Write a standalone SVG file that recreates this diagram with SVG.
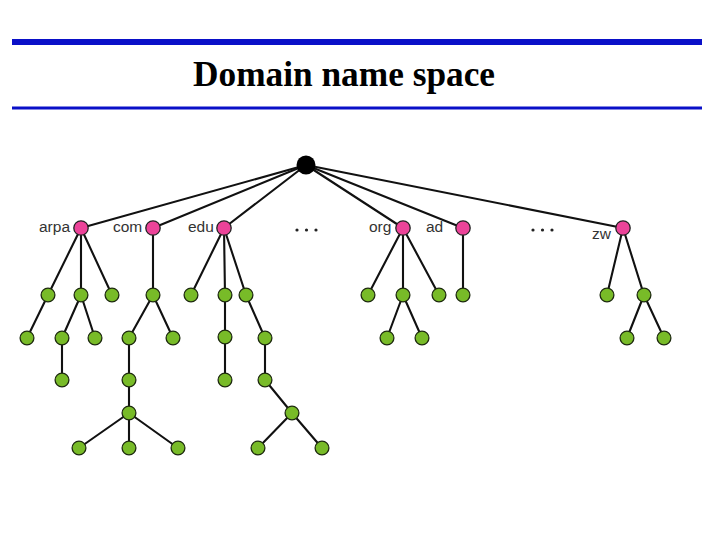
<svg xmlns="http://www.w3.org/2000/svg" width="720" height="540" viewBox="0 0 720 540">
<style>
.bar{fill:#0a10c8}
.title{font-family:"Liberation Serif","Times New Roman",serif;font-weight:bold;font-size:35px;fill:#000}
.edge{stroke:#111;stroke-width:2.1;fill:none;stroke-linecap:round}
.tld{fill:#ec4399;stroke:#222;stroke-width:1.3}
.leaf{fill:#78bb28;stroke:#1e2a10;stroke-width:1.3}
.root{fill:#000}
.lbl{font-family:"Liberation Sans",Arial,sans-serif;font-size:15.5px;fill:#333}
.dot{fill:#222}
</style>
<rect class="bar" x="12" y="39" width="690" height="6"/>
<rect class="bar" x="12" y="106.5" width="690" height="3"/>
<text class="title" x="193" y="86" textLength="302" lengthAdjust="spacingAndGlyphs">Domain name space</text>
<g id="connectors">
<line class="edge" x1="306" y1="165" x2="81" y2="228"/>
<line class="edge" x1="306" y1="165" x2="153" y2="228"/>
<line class="edge" x1="306" y1="165" x2="224" y2="228"/>
<line class="edge" x1="306" y1="165" x2="403" y2="228"/>
<line class="edge" x1="306" y1="165" x2="463" y2="228"/>
<line class="edge" x1="306" y1="165" x2="623" y2="228"/>
<line class="edge" x1="81" y1="228" x2="48" y2="295"/>
<line class="edge" x1="81" y1="228" x2="81" y2="295"/>
<line class="edge" x1="81" y1="228" x2="112" y2="295"/>
<line class="edge" x1="153" y1="228" x2="153" y2="295"/>
<line class="edge" x1="224" y1="228" x2="191" y2="295"/>
<line class="edge" x1="224" y1="228" x2="225" y2="295"/>
<line class="edge" x1="224" y1="228" x2="246" y2="295"/>
<line class="edge" x1="403" y1="228" x2="368" y2="295"/>
<line class="edge" x1="403" y1="228" x2="403" y2="295"/>
<line class="edge" x1="403" y1="228" x2="439" y2="295"/>
<line class="edge" x1="463" y1="228" x2="463" y2="295"/>
<line class="edge" x1="623" y1="228" x2="607" y2="295"/>
<line class="edge" x1="623" y1="228" x2="644" y2="295"/>
<line class="edge" x1="48" y1="295" x2="27" y2="338"/>
<line class="edge" x1="81" y1="295" x2="62" y2="338"/>
<line class="edge" x1="81" y1="295" x2="95" y2="338"/>
<line class="edge" x1="153" y1="295" x2="129" y2="338"/>
<line class="edge" x1="153" y1="295" x2="173" y2="338"/>
<line class="edge" x1="225" y1="295" x2="225" y2="337"/>
<line class="edge" x1="246" y1="295" x2="265" y2="338"/>
<line class="edge" x1="403" y1="295" x2="387" y2="338"/>
<line class="edge" x1="403" y1="295" x2="422" y2="338"/>
<line class="edge" x1="644" y1="295" x2="627" y2="338"/>
<line class="edge" x1="644" y1="295" x2="664" y2="338"/>
<line class="edge" x1="62" y1="338" x2="62" y2="380"/>
<line class="edge" x1="129" y1="338" x2="129" y2="380"/>
<line class="edge" x1="225" y1="337" x2="225" y2="380"/>
<line class="edge" x1="265" y1="338" x2="265" y2="380"/>
<line class="edge" x1="129" y1="380" x2="129" y2="413"/>
<line class="edge" x1="265" y1="380" x2="292" y2="413"/>
<line class="edge" x1="129" y1="413" x2="79" y2="448"/>
<line class="edge" x1="129" y1="413" x2="129" y2="448"/>
<line class="edge" x1="129" y1="413" x2="178" y2="448"/>
<line class="edge" x1="292" y1="413" x2="258" y2="448"/>
<line class="edge" x1="292" y1="413" x2="322" y2="448"/>
</g>
<g id="root"><circle class="root" cx="306" cy="165" r="9.5"/></g>
<g id="arpa"><circle class="tld" cx="81" cy="228" r="7.2"/><text class="lbl" x="39" y="232">arpa</text></g>
<g id="com"><circle class="tld" cx="153" cy="228" r="7.2"/><text class="lbl" x="113" y="232">com</text></g>
<g id="edu"><circle class="tld" cx="224" cy="228" r="7.2"/><text class="lbl" x="188" y="232">edu</text></g>
<g id="org"><circle class="tld" cx="403" cy="228" r="7.2"/><text class="lbl" x="369" y="232">org</text></g>
<g id="ad"><circle class="tld" cx="463" cy="228" r="7.2"/><text class="lbl" x="426" y="232">ad</text></g>
<g id="zw"><circle class="tld" cx="623" cy="228" r="7.2"/><text class="lbl" x="592" y="238.5">zw</text></g>
<g id="ellipsis1"><circle class="dot" cx="297" cy="230" r="1.6"/><circle class="dot" cx="306.5" cy="230" r="1.6"/><circle class="dot" cx="316" cy="230" r="1.6"/></g>
<g id="ellipsis2"><circle class="dot" cx="533" cy="230" r="1.6"/><circle class="dot" cx="542.5" cy="230" r="1.6"/><circle class="dot" cx="552" cy="230" r="1.6"/></g>
<g id="leaves">
<circle class="leaf" cx="48" cy="295" r="6.9"/>
<circle class="leaf" cx="81" cy="295" r="6.9"/>
<circle class="leaf" cx="112" cy="295" r="6.9"/>
<circle class="leaf" cx="153" cy="295" r="6.9"/>
<circle class="leaf" cx="191" cy="295" r="6.9"/>
<circle class="leaf" cx="225" cy="295" r="6.9"/>
<circle class="leaf" cx="246" cy="295" r="6.9"/>
<circle class="leaf" cx="368" cy="295" r="6.9"/>
<circle class="leaf" cx="403" cy="295" r="6.9"/>
<circle class="leaf" cx="439" cy="295" r="6.9"/>
<circle class="leaf" cx="463" cy="295" r="6.9"/>
<circle class="leaf" cx="607" cy="295" r="6.9"/>
<circle class="leaf" cx="644" cy="295" r="6.9"/>
<circle class="leaf" cx="27" cy="338" r="6.9"/>
<circle class="leaf" cx="62" cy="338" r="6.9"/>
<circle class="leaf" cx="95" cy="338" r="6.9"/>
<circle class="leaf" cx="129" cy="338" r="6.9"/>
<circle class="leaf" cx="173" cy="338" r="6.9"/>
<circle class="leaf" cx="225" cy="337" r="6.9"/>
<circle class="leaf" cx="265" cy="338" r="6.9"/>
<circle class="leaf" cx="387" cy="338" r="6.9"/>
<circle class="leaf" cx="422" cy="338" r="6.9"/>
<circle class="leaf" cx="627" cy="338" r="6.9"/>
<circle class="leaf" cx="664" cy="338" r="6.9"/>
<circle class="leaf" cx="62" cy="380" r="6.9"/>
<circle class="leaf" cx="129" cy="380" r="6.9"/>
<circle class="leaf" cx="225" cy="380" r="6.9"/>
<circle class="leaf" cx="265" cy="380" r="6.9"/>
<circle class="leaf" cx="129" cy="413" r="6.9"/>
<circle class="leaf" cx="292" cy="413" r="6.9"/>
<circle class="leaf" cx="79" cy="448" r="6.9"/>
<circle class="leaf" cx="129" cy="448" r="6.9"/>
<circle class="leaf" cx="178" cy="448" r="6.9"/>
<circle class="leaf" cx="258" cy="448" r="6.9"/>
<circle class="leaf" cx="322" cy="448" r="6.9"/>
</g>
</svg>
